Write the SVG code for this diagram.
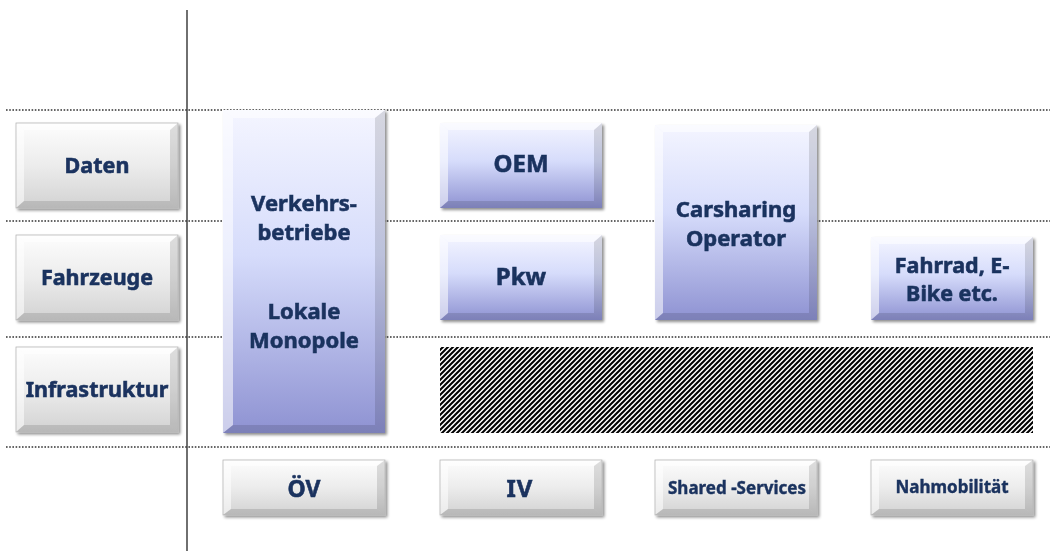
<svg xmlns="http://www.w3.org/2000/svg" width="1050" height="551" viewBox="0 0 1050 551">
  <defs>
    <linearGradient id="gGray" x1="0" y1="0" x2="0" y2="1">
      <stop offset="0" stop-color="#fdfdfd"/>
      <stop offset="0.5" stop-color="#ececec"/>
      <stop offset="1" stop-color="#d2d2d2"/>
    </linearGradient>
    <linearGradient id="gBlue" x1="0" y1="0" x2="0" y2="1">
      <stop offset="0" stop-color="#f4f5ff"/>
      <stop offset="0.45" stop-color="#d6dcfb"/>
      <stop offset="1" stop-color="#8e92d2"/>
    </linearGradient>
    <filter id="shadow" x="-10%" y="-10%" width="125%" height="125%">
      <feGaussianBlur in="SourceAlpha" stdDeviation="1.5"/>
      <feOffset dx="1.5" dy="2" result="b"/>
      <feComponentTransfer><feFuncA type="linear" slope="0.45"/></feComponentTransfer>
      <feMerge><feMergeNode/><feMergeNode in="SourceGraphic"/></feMerge>
    </filter>
    <!-- forward-slash hatching -->
    <pattern id="hatch" width="5" height="5" patternUnits="userSpaceOnUse">
      <rect width="5" height="5" fill="#ffffff"/>
      <path d="M-1,6 L6,-1 M-1,1 L1,-1 M4,6 L6,4" stroke="#000000" stroke-width="2"/>
    </pattern>
  </defs>
  <style>
    .dot { stroke: #333; stroke-width: 1.6; stroke-dasharray: 1.6 1.6; fill: none; }
    .axis { stroke: #333; stroke-width: 1.4; }
    .lbl { font-family: "Noto Sans", "Open Sans", "Liberation Sans", sans-serif; font-weight: bold; fill: #1a325e; stroke: #1a325e; stroke-width: 0.6; text-anchor: middle; }
    .lt { fill: #ffffff; opacity: 0.55; }
    .dk { fill: #000000; opacity: 0.12; }
    .edge { fill: none; stroke: #b8b8b8; stroke-width: 0.8; }
  </style>

  <!-- grid lines -->
  <g id="connectors">
    <line class="axis" x1="187" y1="10" x2="187" y2="551"/>
    <line class="dot" x1="6" y1="110" x2="1050" y2="110"/>
    <line class="dot" x1="6" y1="221" x2="1050" y2="221"/>
    <line class="dot" x1="6" y1="337" x2="1050" y2="337"/>
    <line class="dot" x1="6" y1="447" x2="1050" y2="447"/>
  </g>

  <!-- row labels -->
  <g id="daten" filter="url(#shadow)">
    <rect x="16" y="123" width="162" height="85" fill="url(#gGray)"/>
    <polygon class="lt" points="16,123 178,123 170,130 24,130"/>
    <polygon class="lt" points="16,123 24,130 24,201 16,208"/>
    <polygon class="dk" points="178,123 178,208 170,201 170,130"/>
    <polygon class="dk" points="16,208 24,201 170,201 178,208"/>
    <rect class="edge" x="16" y="123" width="162" height="85"/>
    <text class="lbl" x="97" y="173" font-size="21.5">Daten</text>
  </g>
  <g id="fahrzeuge" filter="url(#shadow)">
    <rect x="16" y="235" width="162" height="85" fill="url(#gGray)"/>
    <polygon class="lt" points="16,235 178,235 170,242 24,242"/>
    <polygon class="lt" points="16,235 24,242 24,313 16,320"/>
    <polygon class="dk" points="178,235 178,320 170,313 170,242"/>
    <polygon class="dk" points="16,320 24,313 170,313 178,320"/>
    <rect class="edge" x="16" y="235" width="162" height="85"/>
    <text class="lbl" x="97" y="285" font-size="21.5">Fahrzeuge</text>
  </g>
  <g id="infrastruktur" filter="url(#shadow)">
    <rect x="16" y="347" width="162" height="85" fill="url(#gGray)"/>
    <polygon class="lt" points="16,347 178,347 170,354 24,354"/>
    <polygon class="lt" points="16,347 24,354 24,425 16,432"/>
    <polygon class="dk" points="178,347 178,432 170,425 170,354"/>
    <polygon class="dk" points="16,432 24,425 170,425 178,432"/>
    <rect class="edge" x="16" y="347" width="162" height="85"/>
    <text class="lbl" x="97" y="397" font-size="21.5">Infrastruktur</text>
  </g>

  <!-- actors -->
  <g id="verkehrsbetriebe" filter="url(#shadow)">
    <rect x="223" y="110" width="162" height="323" fill="url(#gBlue)"/>
    <polygon class="lt" points="223,110 385,110 375,118 233,118"/>
    <polygon class="lt" points="223,110 233,118 233,425 223,433"/>
    <polygon class="dk" points="385,110 385,433 375,425 375,118"/>
    <polygon class="dk" points="223,433 233,425 375,425 385,433"/>
    <text class="lbl" x="304" y="211" font-size="22">Verkehrs-</text>
    <text class="lbl" x="304" y="240" font-size="22">betriebe</text>
    <text class="lbl" x="304" y="319" font-size="22">Lokale</text>
    <text class="lbl" x="304" y="348" font-size="22">Monopole</text>
  </g>
  <g id="oem" filter="url(#shadow)">
    <rect x="440" y="123" width="162" height="85" fill="url(#gBlue)"/>
    <polygon class="lt" points="440,123 602,123 594,130 448,130"/>
    <polygon class="lt" points="440,123 448,130 448,201 440,208"/>
    <polygon class="dk" points="602,123 602,208 594,201 594,130"/>
    <polygon class="dk" points="440,208 448,201 594,201 602,208"/>
    <text class="lbl" x="521" y="172" font-size="24">OEM</text>
  </g>
  <g id="pkw" filter="url(#shadow)">
    <rect x="440" y="235" width="162" height="85" fill="url(#gBlue)"/>
    <polygon class="lt" points="440,235 602,235 594,242 448,242"/>
    <polygon class="lt" points="440,235 448,242 448,313 440,320"/>
    <polygon class="dk" points="602,235 602,320 594,313 594,242"/>
    <polygon class="dk" points="440,320 448,313 594,313 602,320"/>
    <text class="lbl" x="521" y="285" font-size="24">Pkw</text>
  </g>
  <g id="carsharing" filter="url(#shadow)">
    <rect x="655" y="125" width="162" height="195" fill="url(#gBlue)"/>
    <polygon class="lt" points="655,125 817,125 809,132 663,132"/>
    <polygon class="lt" points="655,125 663,132 663,313 655,320"/>
    <polygon class="dk" points="817,125 817,320 809,313 809,132"/>
    <polygon class="dk" points="655,320 663,313 809,313 817,320"/>
    <text class="lbl" x="736" y="217" font-size="22">Carsharing</text>
    <text class="lbl" x="736" y="246" font-size="22">Operator</text>
  </g>
  <g id="fahrrad" filter="url(#shadow)">
    <rect x="871" y="237" width="162" height="83" fill="url(#gBlue)"/>
    <polygon class="lt" points="871,237 1033,237 1025,244 879,244"/>
    <polygon class="lt" points="871,237 879,244 879,313 871,320"/>
    <polygon class="dk" points="1033,237 1033,320 1025,313 1025,244"/>
    <polygon class="dk" points="871,320 879,313 1025,313 1033,320"/>
    <text class="lbl" x="952" y="273" font-size="21.5">Fahrrad, E-</text>
    <text class="lbl" x="952" y="301" font-size="21.5">Bike etc.</text>
  </g>

  <!-- shared infrastructure (hatched) -->
  <g id="infra-hatch">
    <rect x="440" y="347" width="593" height="86" fill="url(#hatch)"/>
  </g>

  <!-- column labels -->
  <g id="oev" filter="url(#shadow)">
    <rect x="223" y="460" width="162" height="55" fill="url(#gGray)"/>
    <polygon class="lt" points="223,460 385,460 377,466 231,466"/>
    <polygon class="lt" points="223,460 231,466 231,509 223,515"/>
    <polygon class="dk" points="385,460 385,515 377,509 377,466"/>
    <polygon class="dk" points="223,515 231,509 377,509 385,515"/>
    <rect class="edge" x="223" y="460" width="162" height="55"/>
    <text class="lbl" x="304" y="497" font-size="23">ÖV</text>
  </g>
  <g id="iv" filter="url(#shadow)">
    <rect x="440" y="460" width="162" height="55" fill="url(#gGray)"/>
    <polygon class="lt" points="440,460 602,460 594,466 448,466"/>
    <polygon class="lt" points="440,460 448,466 448,509 440,515"/>
    <polygon class="dk" points="602,460 602,515 594,509 594,466"/>
    <polygon class="dk" points="440,515 448,509 594,509 602,515"/>
    <rect class="edge" x="440" y="460" width="162" height="55"/>
    <text class="lbl" x="520" y="497" font-size="24" letter-spacing="1">IV</text>
  </g>
  <g id="shared" filter="url(#shadow)">
    <rect x="655" y="460" width="162" height="55" fill="url(#gGray)"/>
    <polygon class="lt" points="655,460 817,460 809,466 663,466"/>
    <polygon class="lt" points="655,460 663,466 663,509 655,515"/>
    <polygon class="dk" points="817,460 817,515 809,509 809,466"/>
    <polygon class="dk" points="655,515 663,509 809,509 817,515"/>
    <rect class="edge" x="655" y="460" width="162" height="55"/>
    <text class="lbl" x="737" y="494" font-size="17" style="stroke-width:0.4">Shared -Services</text>
  </g>
  <g id="nahmobilitaet" filter="url(#shadow)">
    <rect x="871" y="460" width="162" height="55" fill="url(#gGray)"/>
    <polygon class="lt" points="871,460 1033,460 1025,466 879,466"/>
    <polygon class="lt" points="871,460 879,466 879,509 871,515"/>
    <polygon class="dk" points="1033,460 1033,515 1025,509 1025,466"/>
    <polygon class="dk" points="871,515 879,509 1025,509 1033,515"/>
    <rect class="edge" x="871" y="460" width="162" height="55"/>
    <text class="lbl" x="952" y="493" font-size="17" style="stroke-width:0.4">Nahmobilität</text>
  </g>
</svg>
